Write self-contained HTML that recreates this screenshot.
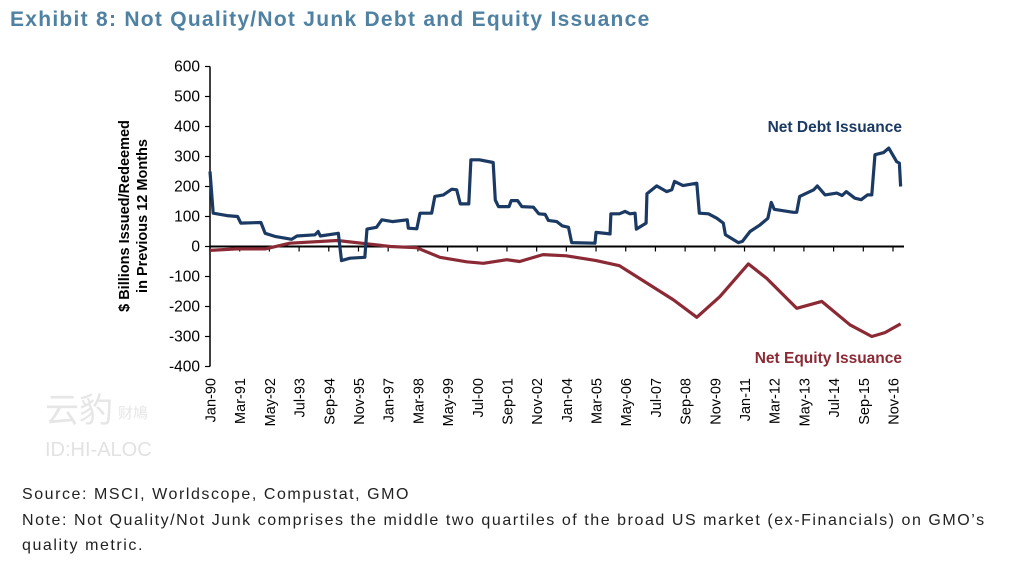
<!DOCTYPE html>
<html><head><meta charset="utf-8"><style>
body{margin:0;width:1012px;height:568px;background:#fff;font-family:"Liberation Sans","Noto Sans CJK SC",sans-serif;overflow:hidden;position:relative}
.t{position:absolute;left:10px;top:8px;font-size:21px;font-weight:bold;color:#4f81a3;letter-spacing:1.27px}
.src{position:absolute;left:22px;font-size:16px;color:#222;letter-spacing:1.55px}
</style></head><body>
<div class="t">Exhibit 8: Not Quality/Not Junk Debt and Equity Issuance</div>
<svg id="c" width="1012" height="568" style="position:absolute;left:0;top:0"></svg>
<div class="src" style="top:486px">Source: MSCI, Worldscope, Compustat, GMO</div>
<div class="src" style="top:508px;width:985px;line-height:25px">Note: Not Quality/Not Junk comprises the middle two quartiles of the broad US market (ex-Financials) on GMO’s quality metric.</div>
<script>
const yTicks=[600,500,400,300,200,100,0,-100,-200,-300,-400];
const xLabels=["Jan-90","Mar-91","May-92","Jul-93","Sep-94","Nov-95","Jan-97","Mar-98","May-99","Jul-00","Sep-01","Nov-02","Jan-04","Mar-05","May-06","Jul-07","Sep-08","Nov-09","Jan-11","Mar-12","May-13","Jul-14","Sep-15","Nov-16"];
const debtMonths=[0,1.5,8,13,14.5,24,26,31,38.5,41,49.5,51,52,60.5,62,66,73,74,78.5,81,86,93,93.5,97.5,99,104.5,106,110,114,116.3,118,122,123,127,133.5,134.5,136,141,142,145,147,152.5,155,158,159.5,163.5,166,169,170.5,181.5,182,188.6,189,193,195.7,198,200.4,201,205.6,206,210.6,215.3,217.7,219,223,229.5,230.7,235,239,242,243,249.1,251,254.6,259.3,263,264.6,266,275,276.6,278,284.6,286.3,290,295.5,298,300,304,307,310,312,313.5,317.5,320,323.7,325,325.6];
const debtValues=[250,111,103,100,78,80,44,33,24,35,39,50,35,44,-47,-39,-36,58,64,89,83,89,61,59,111,111,167,172,191,189,142,142,289,289,280,155,133,133,153,153,133,131,109,107,87,83,69,64,13,11,47,42,109,109,117,109,111,58,78,176,202,183,189,217,203,211,111,109,94,78,39,13,17,50,72,94,147,124,114,114,167,189,202,172,178,170,183,161,156,172,172,306,313,328,283,278,200];
const eqMonths=[0,12.6,26,37.7,60,74,85,97.4,108.4,121,128.9,140,146,157,168,182,193,206,218.5,229.5,240.4,253.8,262.4,276.6,288.4,301.7,312,318.2,325.6];
const eqValues=[-13,-8,-8,11,20,9,0,-4,-36,-51,-56,-44,-50,-27,-31,-47,-64,-122,-178,-236,-167,-58,-106,-206,-183,-261,-300,-287,-258];
const X0=210,PXM=683/322,Y0=246.5,PXV=0.3;
const xs=m=>X0+m*PXM, ys=v=>Y0-v*PXV;
const svg=document.getElementById('c'),NS='http://www.w3.org/2000/svg';
function el(t,a,txt){const e=document.createElementNS(NS,t);for(const k in a)e.setAttribute(k,a[k]);if(txt!=null)e.textContent=txt;svg.appendChild(e);return e;}
let w=el('text',{x:45,y:422,'font-size':34,fill:'#e6e6e6'},'云豹');


w=el('text',{x:118,y:418,'font-size':15,fill:'#e6e6e6'},'财鳩');


w=el('text',{x:45,y:456,'font-size':20,fill:'#e2e2e2'},'ID:HI-ALOC');


let a=el('line',{x1:X0,y1:ys(600),x2:X0,y2:ys(-400),stroke:'#000','stroke-width':1.5});


yTicks.forEach(v=>{
 el('line',{x1:X0-5,y1:ys(v),x2:X0,y2:ys(v),stroke:'#000','stroke-width':1.2});
 const t=el('text',{x:X0-10,y:ys(v)+5,'text-anchor':'end','font-size':15.5,fill:'#000'},v);
 
 
});
a=el('line',{x1:X0,y1:Y0,x2:904,y2:Y0,stroke:'#000','stroke-width':2});


xLabels.forEach((l,i)=>{
 const x=xs(i*14);
 el('line',{x1:x,y1:Y0,x2:x,y2:Y0+5,stroke:'#000','stroke-width':1.2});
 const t=el('text',{x:0,y:0,'text-anchor':'end','font-size':14.5,fill:'#000',transform:`translate(${x+5.5},378) rotate(-90)`},l);
 
 
});
const yt=el('text',{x:0,y:0,'text-anchor':'middle','font-size':14.5,'font-weight':'bold',fill:'#000',transform:'translate(129,216) rotate(-90)'});


const s1=document.createElementNS(NS,'tspan');s1.setAttribute('x',0);s1.setAttribute('dy',0);s1.textContent='$ Billions Issued/Redeemed';yt.appendChild(s1);
const s2=document.createElementNS(NS,'tspan');s2.setAttribute('x',0);s2.setAttribute('dy',18);s2.textContent='in Previous 12 Months';yt.appendChild(s2);
function line(ms,vs,c,name){
 const p=el('polyline',{points:ms.map((m,i)=>xs(m)+','+ys(vs[i])).join(' '),fill:'none',stroke:c,'stroke-width':3.2,'stroke-linejoin':'round'});
 
 
}
line(eqMonths,eqValues,'#8b2a35','equity-line');
line(debtMonths,debtValues,'#1b3a63','debt-line');
let lg=el('text',{x:902,y:132,'text-anchor':'end','font-size':15.5,'font-weight':'bold',fill:'#1b3a63'},'Net Debt Issuance');


lg=el('text',{x:902,y:363,'text-anchor':'end','font-size':15.5,'font-weight':'bold',fill:'#8b2a35'},'Net Equity Issuance');


</script>
</body></html>
